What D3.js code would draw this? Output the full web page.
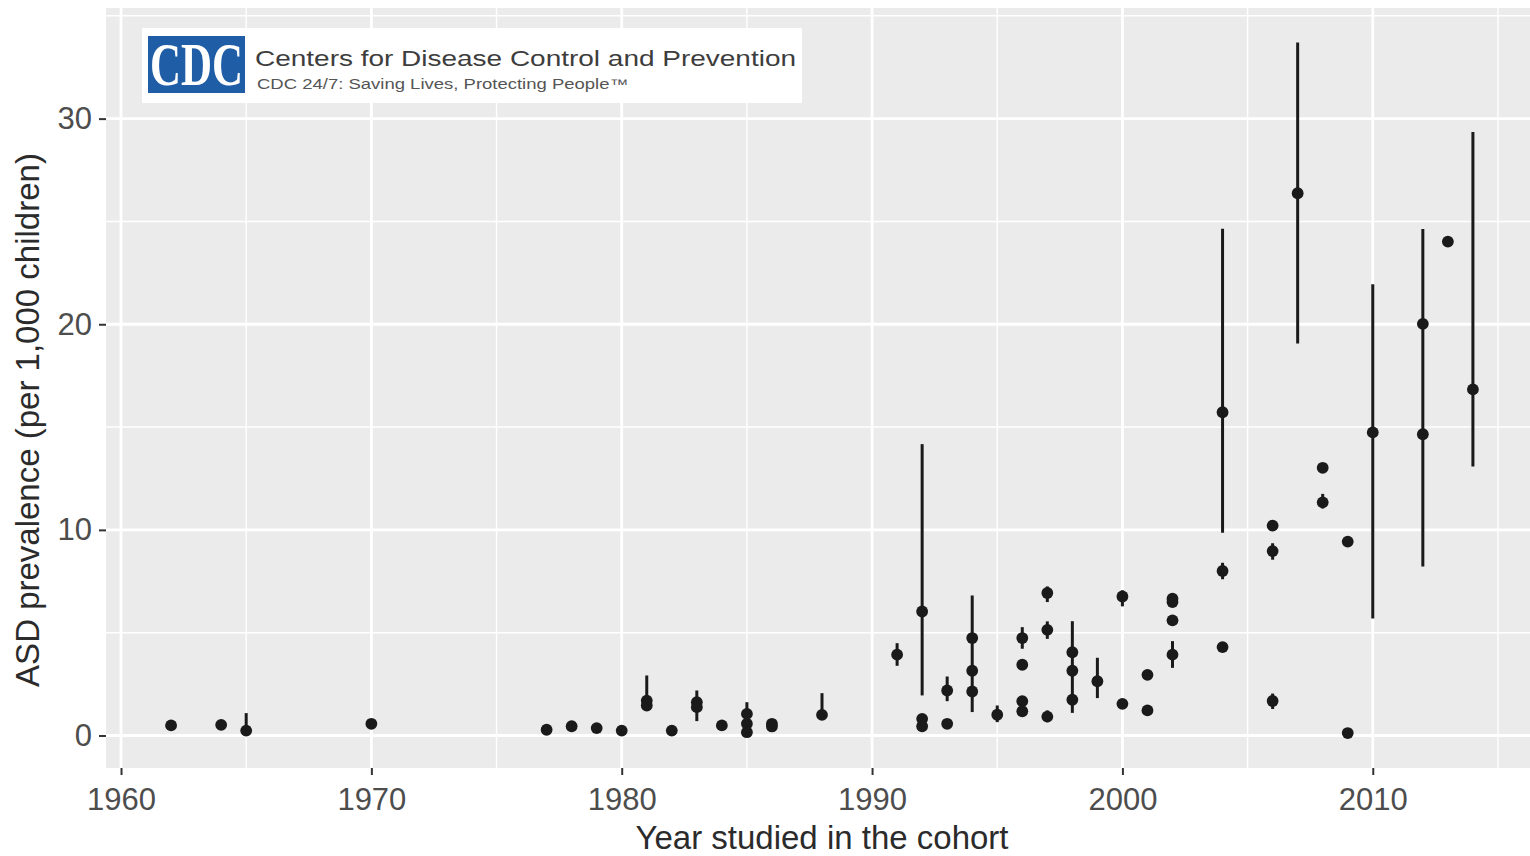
<!DOCTYPE html>
<html>
<head>
<meta charset="utf-8">
<script src="https://cdn.jsdelivr.net/npm/d3@7"></script>
<style>
  html, body { margin: 0; padding: 0; background: #ffffff; overflow: hidden; }
  svg { display: block; font-family: "Liberation Sans", Arial, Helvetica, sans-serif; }
</style>
</head>
<body>
<svg id="chart" width="1530" height="856"></svg>
<script>
// Study cohort year for each prevalence estimate
const years = [
  1962, 1964, 1965, 1970, 1977, 1978, 1979, 1980,
  1981, 1981, 1982, 1983, 1983, 1984, 1985, 1985, 1985, 1986, 1986, 1988,
  1991, 1992, 1992, 1992, 1993, 1993, 1994, 1994, 1994, 1995,
  1996, 1996, 1996, 1996, 1997, 1997, 1997, 1998, 1998, 1998, 1999,
  2000, 2000, 2001, 2001, 2002, 2002, 2002, 2002,
  2004, 2004, 2004, 2006, 2006, 2006, 2007, 2008, 2008, 2009, 2009,
  2010, 2012, 2012, 2013, 2014
];
// ASD prevalence per 1,000 children
const prevalence = [
  0.49, 0.52, 0.24, 0.57, 0.28, 0.45, 0.36, 0.24,
  1.70, 1.46, 0.24, 1.62, 1.38, 0.49, 1.05, 0.57, 0.16, 0.57, 0.44, 1.00,
  3.93, 6.03, 0.81, 0.45, 2.19, 0.57, 4.74, 3.15, 2.14, 1.01,
  4.74, 3.44, 1.67, 1.18, 6.93, 5.14, 0.92, 4.05, 3.15, 1.74, 2.64,
  6.76, 1.54, 2.95, 1.22, 6.65, 6.49, 5.60, 3.93,
  15.72, 8.00, 4.30, 10.21, 8.97, 1.68, 26.37, 13.02, 11.34, 9.43, 0.12,
  14.74, 20.02, 14.65, 24.02, 16.83
];
// Confidence interval bounds (null where no interval is reported)
const ciLower = [
  null, null, 0.10, 0.42, null, null, null, null,
  1.45, null, null, 0.70, null, null, 0.60, null, null, null, null, 0.85,
  3.39, 1.95, null, null, 1.67, null, null, 1.14, null, 0.65,
  4.22, null, null, null, 6.49, 4.70, 0.65, null, 1.10, null, 1.82,
  6.28, null, null, null, null, null, null, 3.29,
  9.86, 7.60, null, null, 8.55, 1.29, 19.06, null, 11.04, null, null,
  5.69, null, 8.22, null, 13.08
];
const ciUpper = [
  null, null, 1.09, 0.76, null, null, null, null,
  2.92, null, null, 2.19, null, null, 1.62, null, null, null, null, 2.06,
  4.49, 14.17, null, null, 2.87, null, null, 6.81, null, 1.46,
  5.27, null, null, null, 7.25, 5.55, 1.22, null, 5.56, null, 3.78,
  7.06, null, null, null, null, null, null, 4.59,
  24.64, 8.40, null, null, 9.35, 2.04, 33.70, null, 11.75, null, null,
  21.94, null, 24.63, null, 29.35
];

const xTickYears = [1960, 1970, 1980, 1990, 2000, 2010];
const xMinorYears = [1965, 1975, 1985, 1995, 2005, 2015];
const yTickValues = [0, 10, 20, 30];
const yMinorValues = [5, 15, 25, 35];

const xTitle = "Year studied in the cohort";
const yTitle = "ASD prevalence (per 1,000 children)";
const logoMark = "CDC";
const logoName = "Centers for Disease Control and Prevention";
const logoTagline = "CDC 24/7: Saving Lives, Protecting People\u2122";

const rows = years.map((yr, i) => ({
  year: yr, value: prevalence[i], lo: ciLower[i], hi: ciUpper[i]
}));

// Panel box
const panel = { left: 106, top: 8, right: 1538, bottom: 768 };

// Domains padded by 5% on each side
const xExt = d3.extent(years);
const xPad = (xExt[1] - xExt[0]) * 0.05;
const yAll = prevalence.concat(ciLower.filter(v => v != null), ciUpper.filter(v => v != null));
const yExt = d3.extent(yAll);
const yPad = (yExt[1] - yExt[0]) * 0.05;

const x = d3.scaleLinear().domain([xExt[0] - xPad, xExt[1] + xPad]).range([panel.left, panel.right]);
const y = d3.scaleLinear().domain([yExt[0] - yPad, yExt[1] + yPad]).range([panel.bottom, panel.top]);

const svg = d3.select("#chart");

// Panel background
svg.append("rect")
  .attr("x", panel.left).attr("y", panel.top)
  .attr("width", panel.right - panel.left).attr("height", panel.bottom - panel.top)
  .attr("fill", "#ebebeb");

// Grid lines
const grid = svg.append("g").attr("stroke", "#ffffff").attr("fill", "none");
grid.selectAll("line.ymin").data(yMinorValues).join("line")
  .attr("x1", panel.left).attr("x2", panel.right)
  .attr("y1", d => y(d)).attr("y2", d => y(d)).attr("stroke-width", 1.4);
grid.selectAll("line.xmin").data(xMinorYears).join("line")
  .attr("y1", panel.top).attr("y2", panel.bottom)
  .attr("x1", d => x(d)).attr("x2", d => x(d)).attr("stroke-width", 1.4);
grid.selectAll("line.ymaj").data(yTickValues).join("line")
  .attr("x1", panel.left).attr("x2", panel.right)
  .attr("y1", d => y(d)).attr("y2", d => y(d)).attr("stroke-width", 2.8);
grid.selectAll("line.xmaj").data(xTickYears).join("line")
  .attr("y1", panel.top).attr("y2", panel.bottom)
  .attr("x1", d => x(d)).attr("x2", d => x(d)).attr("stroke-width", 2.8);

// Interval ranges
svg.append("g").selectAll("line")
  .data(rows.filter(d => d.lo != null))
  .join("line")
  .attr("x1", d => x(d.year)).attr("x2", d => x(d.year))
  .attr("y1", d => y(d.lo)).attr("y2", d => y(d.hi))
  .attr("stroke", "#1a1a1a").attr("stroke-width", 3);

// Point estimates
svg.append("g").selectAll("circle")
  .data(rows)
  .join("circle")
  .attr("cx", d => x(d.year)).attr("cy", d => y(d.value))
  .attr("r", 5.9).attr("fill", "#1a1a1a");

// Axes
function styleAxis(g) {
  g.select(".domain").remove();
  g.selectAll(".tick line").attr("stroke", "#333333").attr("stroke-width", 2);
  g.selectAll(".tick text")
    .attr("fill", "#4d4d4d")
    .style("font-size", "31px")
    .style("font-family", "'Liberation Sans', Arial, Helvetica, sans-serif");
}
svg.append("g")
  .attr("transform", `translate(0,${panel.bottom})`)
  .call(d3.axisBottom(x).tickValues(xTickYears).tickFormat(d3.format("d")).tickSize(7).tickPadding(13))
  .call(styleAxis);
svg.append("g")
  .attr("transform", `translate(${panel.left},0)`)
  .call(d3.axisLeft(y).tickValues(yTickValues).tickFormat(d3.format("d")).tickSize(7).tickPadding(7))
  .call(styleAxis);

// Axis titles
svg.append("text")
  .attr("x", (panel.left + panel.right) / 2).attr("y", 849)
  .attr("text-anchor", "middle").attr("fill", "#2b2b2b")
  .style("font-size", "33px").text(xTitle);
svg.append("text")
  .attr("transform", "translate(39,420) rotate(-90)")
  .attr("text-anchor", "middle").attr("fill", "#2b2b2b")
  .style("font-size", "33px").text(yTitle);

// Agency banner in the upper left of the panel
const logo = svg.append("g");
logo.append("rect").attr("x", 142).attr("y", 28).attr("width", 660).attr("height", 75).attr("fill", "#ffffff");
logo.append("rect").attr("x", 148).attr("y", 36).attr("width", 97).attr("height", 57).attr("fill", "#1f5ea6");
logo.append("text")
  .attr("x", 150).attr("y", 85)
  .attr("textLength", 93).attr("lengthAdjust", "spacingAndGlyphs")
  .attr("fill", "#ffffff")
  .style("font-family", "'Liberation Serif', 'Times New Roman', serif")
  .style("font-size", "62px").style("font-weight", "bold")
  .text(logoMark);
logo.append("text")
  .attr("x", 255).attr("y", 66)
  .attr("textLength", 541).attr("lengthAdjust", "spacingAndGlyphs")
  .attr("fill", "#3d3d3d")
  .style("font-size", "22px")
  .text(logoName);
logo.append("text")
  .attr("x", 257).attr("y", 89)
  .attr("textLength", 371).attr("lengthAdjust", "spacingAndGlyphs")
  .attr("fill", "#555555")
  .style("font-size", "14px")
  .text(logoTagline);
</script>
</body>
</html>
